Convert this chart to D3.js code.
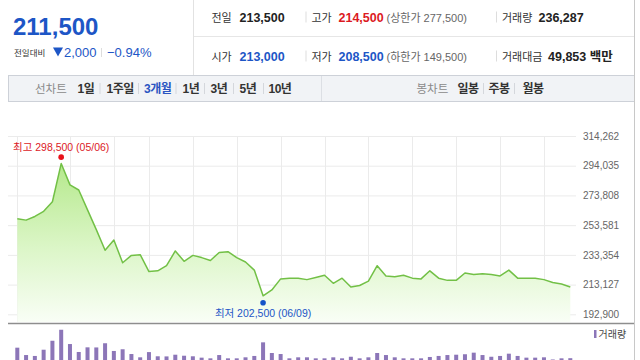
<!DOCTYPE html>
<html>
<head>
<meta charset="utf-8">
<script src="https://cdn.jsdelivr.net/npm/d3@7"></script>
<style>
  body { margin: 0; background: #fff; }
  svg { display: block; font-family: "Liberation Sans", Arial, "Noto Sans CJK KR", sans-serif; }
</style>
</head>
<body>
<div id="chart"></div>
<script>
// daily closes, 3 month view (one per trading day)
const closes = [
  258000, 257000, 259500, 263000, 269500, 295500, 281000, 277500, 264000, 250500,
  236500, 243500, 228000, 233000, 233500, 222000, 222500, 226000, 236000, 229000,
  233000, 231500, 229500, 235000, 235500, 231500, 228500, 223000, 205500, 209500,
  217000, 217500, 217500, 216500, 218000, 219500, 214000, 217500, 211500, 212500,
  215500, 226000, 219000, 218500, 219500, 217500, 217000, 222500, 217500, 216000,
  216000, 221000, 220000, 220500, 220000, 219000, 223000, 217500, 217500, 217500,
  216500, 214500, 213500, 211500
];
const volumes = [
  329000, 264000, 256000, 311000, 390000, 487000, 361000, 291000, 332000, 331000,
  368000, 300000, 315000, 273000, 244000, 290000, 253000, 252000, 267000, 258000,
  253000, 241000, 235000, 264000, 235000, 235000, 244000, 256000, 376000, 282000,
  273000, 235000, 244000, 244000, 235000, 235000, 244000, 235000, 249000, 235000,
  244000, 282000, 264000, 244000, 235000, 235000, 235000, 247000, 256000, 264000,
  267000, 271000, 285000, 264000, 249000, 256000, 276000, 256000, 241000, 241000,
  244000, 225000, 235000, 236287
];
const yTicks = [192900, 213127, 233354, 253581, 273808, 294035, 314262];
const gridDays = [0, 6, 11, 15, 20, 25, 30, 35, 40, 45, 50, 55, 60];
const highPrice = 298500, highDate = "05/06";
const lowPrice = 202500, lowDate = "06/09";

const currentPrice = "211,500";
const change = "2,000";
const changePct = "-0.94%";
const infoRows = [
  [["전일", "213,500", "", ""], ["고가", "214,500", "(상한가 277,500)", "up"], ["거래량", "236,287", "", ""]],
  [["시가", "213,000", "", "down"], ["저가", "208,500", "(하한가 149,500)", "down"], ["거래대금", "49,853 백만", "", ""]]
];
const periodTabs = ["1일", "1주일", "3개월", "1년", "3년", "5년", "10년"];
const candleTabs = ["일봉", "주봉", "월봉"];

const RED = "#dc1a1f", BLUE = "#1d56c6";
const width = 640, height = 360;

const svg = d3.select("#chart").append("svg")
  .attr("width", width).attr("height", height);

svg.append("rect").attr("width", width).attr("height", height).attr("fill", "#fff");

// ---------- header ----------
const head = svg.append("g");

head.append("text").attr("x", 13).attr("y", 35)
  .attr("font-size", 24).attr("font-weight", "bold").attr("fill", BLUE)
  .text(currentPrice);

head.append("text").attr("x", 14).attr("y", 56)
  .attr("font-size", 8.5).attr("fill", "#333").text("전일대비");
head.append("path").attr("d", "M53,47.5 L63,47.5 L58,56.5 Z").attr("fill", BLUE);
head.append("text").attr("x", 64).attr("y", 57)
  .attr("font-size", 13).attr("fill", BLUE).text(change);
head.append("line").attr("x1", 101.5).attr("x2", 101.5).attr("y1", 48).attr("y2", 57)
  .attr("stroke", "#ddd");
head.append("text").attr("x", 107).attr("y", 57)
  .attr("font-size", 13).attr("fill", BLUE).text(changePct.replace("-", "\u2212"));

head.append("line").attr("x1", 193.5).attr("x2", 193.5).attr("y1", 0).attr("y2", 75)
  .attr("stroke", "#e2e2e2");
head.append("line").attr("x1", 194).attr("x2", 634).attr("y1", 36.5).attr("y2", 36.5)
  .attr("stroke", "#e6e6e6");

const colLabelX = [211.5, 311.5, 502];
const colValueX = [[239.5, 338.5, 538.5], [239.5, 338.5, 548]];
const rowBase = [21.5, 60.5];
infoRows.forEach((row, r) => {
  row.forEach((c, i) => {
    const [label, value, note, dir] = c;
    if (i > 0) {
      head.append("line").attr("x1", colLabelX[i] - 5.5).attr("x2", colLabelX[i] - 5.5)
        .attr("y1", rowBase[r] - 10).attr("y2", rowBase[r] + 1).attr("stroke", "#ddd");
    }
    head.append("text").attr("x", colLabelX[i]).attr("y", rowBase[r])
      .attr("font-size", 11).attr("fill", "#333").text(label);
    const v = head.append("text").attr("x", colValueX[r][i]).attr("y", rowBase[r])
      .attr("font-size", 12.5).attr("font-weight", "bold")
      .attr("fill", dir === "up" ? RED : dir === "down" ? BLUE : "#222")
      .text(value);
    if (note) {
      head.append("text").attr("x", 386.5).attr("y", rowBase[r])
        .attr("font-size", 11).attr("fill", "#666").text(note);
    }
  });
});

// ---------- tab bar ----------
const tabs = svg.append("g");
tabs.append("rect").attr("x", 8.5).attr("y", 75.5).attr("width", 626).attr("height", 26)
  .attr("fill", "#f1f3f6").attr("stroke", "#cdd1d8");
tabs.append("line").attr("x1", 321.5).attr("x2", 321.5).attr("y1", 76).attr("y2", 101)
  .attr("stroke", "#dcdfe4");

const periodX = [77.5, 106.5, 144, 182.5, 210.5, 239.5, 268.5];
const periodSep = [100, 138.5, 176, 204.5, 233.5, 263.5];
tabs.append("text").attr("x", 35).attr("y", 92.5).attr("font-size", 11.5)
  .attr("fill", "#8a8a8a").text("선차트");
periodTabs.forEach((t, i) => {
  tabs.append("text").attr("x", periodX[i]).attr("y", 92.5)
    .attr("font-size", 12).attr("font-weight", "bold")
    .attr("fill", t === "3개월" ? "#2b55c2" : "#333")
    .attr("letter-spacing", -0.5).text(t);
});
periodSep.forEach(sx => tabs.append("line").attr("x1", sx).attr("x2", sx)
  .attr("y1", 83).attr("y2", 94).attr("stroke", "#d4d7dc"));

const candleX = [457.5, 488.5, 522.5];
tabs.append("text").attr("x", 416.5).attr("y", 92.5).attr("font-size", 11.5)
  .attr("fill", "#8a8a8a").text("봉차트");
candleTabs.forEach((t, i) => {
  tabs.append("text").attr("x", candleX[i]).attr("y", 92.5)
    .attr("font-size", 12).attr("font-weight", "bold").attr("fill", "#333")
    .attr("letter-spacing", -0.5).text(t);
});
[483.5, 514.5].forEach(sx => tabs.append("line").attr("x1", sx).attr("x2", sx)
  .attr("y1", 83).attr("y2", 94).attr("stroke", "#d4d7dc"));

// ---------- price chart ----------
const x = d3.scaleLinear().domain([0, closes.length - 1]).range([17.3, 570.3]);
const y = d3.scaleLinear().domain([192900, 314262]).range([314.3, 136]);
const yv = d3.scaleLinear().domain([0, 520000]).range([385, 326]);
const plotBottom = 322;

const yAxis = svg.append("g")
  .attr("transform", "translate(576,0)")
  .call(d3.axisRight(y).tickValues(yTicks).tickSize(-568).tickPadding(7)
    .tickFormat(d3.format(",")));
yAxis.select(".domain").remove();
yAxis.selectAll(".tick line").attr("stroke", "#ebebeb");
yAxis.selectAll(".tick text").attr("font-size", 10).attr("fill", "#666")
  .attr("font-family", "Liberation Sans, Arial, sans-serif");

svg.append("g").selectAll("line").data(gridDays).join("line")
  .attr("x1", d => Math.round(x(d)) + 0.5).attr("x2", d => Math.round(x(d)) + 0.5)
  .attr("y1", 136).attr("y2", plotBottom)
  .attr("stroke", "#ebebeb");

const defs = svg.append("defs");
const grad = defs.append("linearGradient").attr("id", "fillGrad")
  .attr("gradientUnits", "userSpaceOnUse")
  .attr("x1", 0).attr("x2", 0).attr("y1", 160).attr("y2", plotBottom);
grad.append("stop").attr("offset", "0%").attr("stop-color", "#b3e889");
grad.append("stop").attr("offset", "55%").attr("stop-color", "#dcf6c8");
grad.append("stop").attr("offset", "100%").attr("stop-color", "#f9fef6");

const idx = d3.range(closes.length);
svg.append("path").datum(idx)
  .attr("fill", "url(#fillGrad)")
  .attr("d", d3.area().x(i => x(i)).y0(plotBottom).y1(i => y(closes[i])));

svg.append("path").datum(idx)
  .attr("fill", "none").attr("stroke", "#72c046").attr("stroke-width", 1.5)
  .attr("stroke-linejoin", "round")
  .attr("d", d3.line().x(i => x(i)).y(i => y(closes[i])));

// high / low markers
const hi = d3.maxIndex(closes), lo = d3.minIndex(closes);
svg.append("circle").attr("cx", x(hi)).attr("cy", y(highPrice) - 2).attr("r", 2.8).attr("fill", "#e8121a");
svg.append("text").attr("x", x(hi)).attr("y", y(highPrice) - 8)
  .attr("text-anchor", "middle").attr("font-size", 10.5).attr("fill", RED)
  .text(`최고 ${d3.format(",")(highPrice)} (${highDate})`);
svg.append("circle").attr("cx", x(lo)).attr("cy", y(lowPrice) + 2.5).attr("r", 2.8).attr("fill", "#1554c8");
svg.append("text").attr("x", x(lo)).attr("y", y(lowPrice) + 16.5)
  .attr("text-anchor", "middle").attr("font-size", 10.5).attr("fill", BLUE)
  .text(`최저 ${d3.format(",")(lowPrice)} (${lowDate})`);

// bottom axis line and frame
svg.append("line").attr("x1", 8).attr("x2", 635).attr("y1", 323.5).attr("y2", 323.5)
  .attr("stroke", "#8e8e8e").attr("stroke-width", 1.5);
svg.append("line").attr("x1", 634.5).attr("x2", 634.5).attr("y1", 0).attr("y2", 360)
  .attr("stroke", "#c8c8c8");

// ---------- volume ----------
svg.append("g").selectAll("rect").data(idx).join("rect")
  .attr("x", i => x(i) - 2).attr("width", 4)
  .attr("y", i => yv(volumes[i])).attr("height", i => yv(0) - yv(volumes[i]))
  .attr("fill", "#8c76b8");

svg.append("rect").attr("x", 594).attr("y", 330).attr("width", 2.5).attr("height", 8)
  .attr("fill", "#8c76b8");
svg.append("text").attr("x", 598.5).attr("y", 338).attr("font-size", 10)
  .attr("fill", "#444").text("거래량");
</script>
</body>
</html>
